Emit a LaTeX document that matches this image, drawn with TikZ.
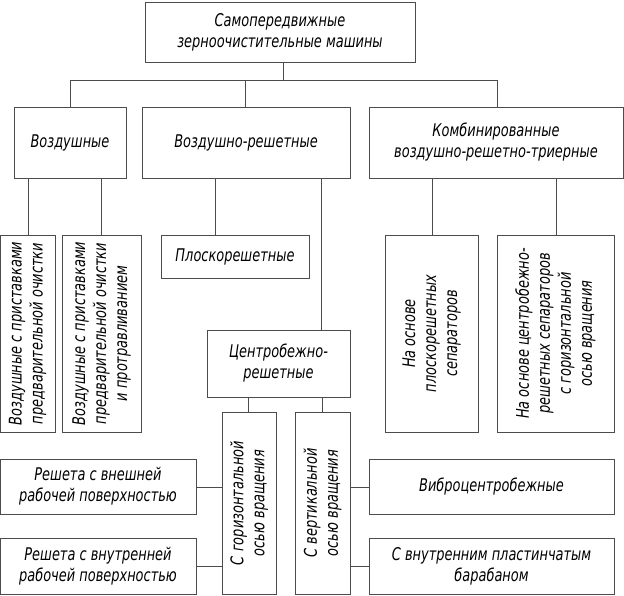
\documentclass[tikz,border=0pt]{standalone}
\usepackage{fontspec}
\setmainfont{DejaVu Sans}[FakeStretch=0.74]
\begin{document}
\begin{tikzpicture}[x=1pt,y=-1pt,
  bx/.style={draw=black!70,line width=0.6pt,align=center,inner sep=0pt,font=\itshape\fontsize{17.5}{21}\selectfont},
  ln/.style={draw=black!70,line width=0.6pt}]
\useasboundingbox (0,0) rectangle (624,595);
% boxes
\draw[ln] (145,2) rectangle (415,62) node[bx,draw=none,midway] (top) {Самопередвижные\\зерноочистительные машины};
\draw[ln] (14,107) rectangle (126,178) node[bx,draw=none,midway] (v) {Воздушные};
\draw[ln] (142,107) rectangle (350,178) node[bx,draw=none,midway] (vr) {Воздушно-решетные};
\draw[ln] (369,107) rectangle (623,178) node[bx,draw=none,midway] (k) {Комбинированные\\воздушно-решетно-триерные};
\draw[ln] (0,235) rectangle (55,432) node[bx,draw=none,midway,rotate=90] (v1) {Воздушные с приставками\\предварительной очистки};
\draw[ln] (62,235) rectangle (141,432) node[bx,draw=none,midway,rotate=90] (v2) {Воздушные с приставками\\предварительной очистки\\и протравливанием};
\draw[ln] (161,235) rectangle (309,278) node[bx,draw=none,midway] (pl) {Плоскорешетные};
\draw[ln] (207,330) rectangle (350,397) node[bx,draw=none,midway] (cr) {Центробежно-\\решетные};
\draw[ln] (385,235) rectangle (478,432) node[bx,draw=none,midway,rotate=90] (k1) {На основе\\плоскорешетных\\сепараторов};
\draw[ln] (497,235) rectangle (614,432) node[bx,draw=none,midway,rotate=90] (k2) {На основе центробежно-\\решетных сепараторов\\с горизонтальной\\осью вращения};
\draw[ln] (222,412) rectangle (276,594) node[bx,draw=none,midway,rotate=90] (g) {С горизонтальной\\осью вращения};
\draw[ln] (295,412) rectangle (350,594) node[bx,draw=none,midway,rotate=90] (ve) {С вертикальной\\осью вращения};
\draw[ln] (0,459) rectangle (196,514) node[bx,draw=none,midway] (r1) {Решета с внешней\\рабочей поверхностью};
\draw[ln] (0,538) rectangle (196,594) node[bx,draw=none,midway] (r2) {Решета с внутренней\\рабочей поверхностью};
\draw[ln] (369,459) rectangle (614,514) node[bx,draw=none,midway] (vc) {Виброцентробежные};
\draw[ln] (369,538) rectangle (614,594) node[bx,draw=none,midway] (vp) {С внутренним пластинчатым\\барабаном};
% connectors
\coordinate (j) at (283,80);
\draw[ln] (283,62) -- (j);
\draw[ln] (70,107) -- (70,80) -- (497,80) -- (497,107);
\draw[ln] (245,80) -- (245,107);
\draw[ln] (28,178) -- (28,235);
\draw[ln] (101,178) -- (101,235);
\draw[ln] (215,178) -- (215,235);
\draw[ln] (321,178) -- (321,330);
\draw[ln] (432,178) -- (432,235);
\draw[ln] (556,178) -- (556,235);
\draw[ln] (248,397) -- (248,412);
\draw[ln] (322,397) -- (322,412);
\draw[ln] (196,487) -- (222,487);
\draw[ln] (196,566) -- (222,566);
\draw[ln] (350,487) -- (369,487);
\draw[ln] (350,566) -- (369,566);
\end{tikzpicture}
\end{document}
